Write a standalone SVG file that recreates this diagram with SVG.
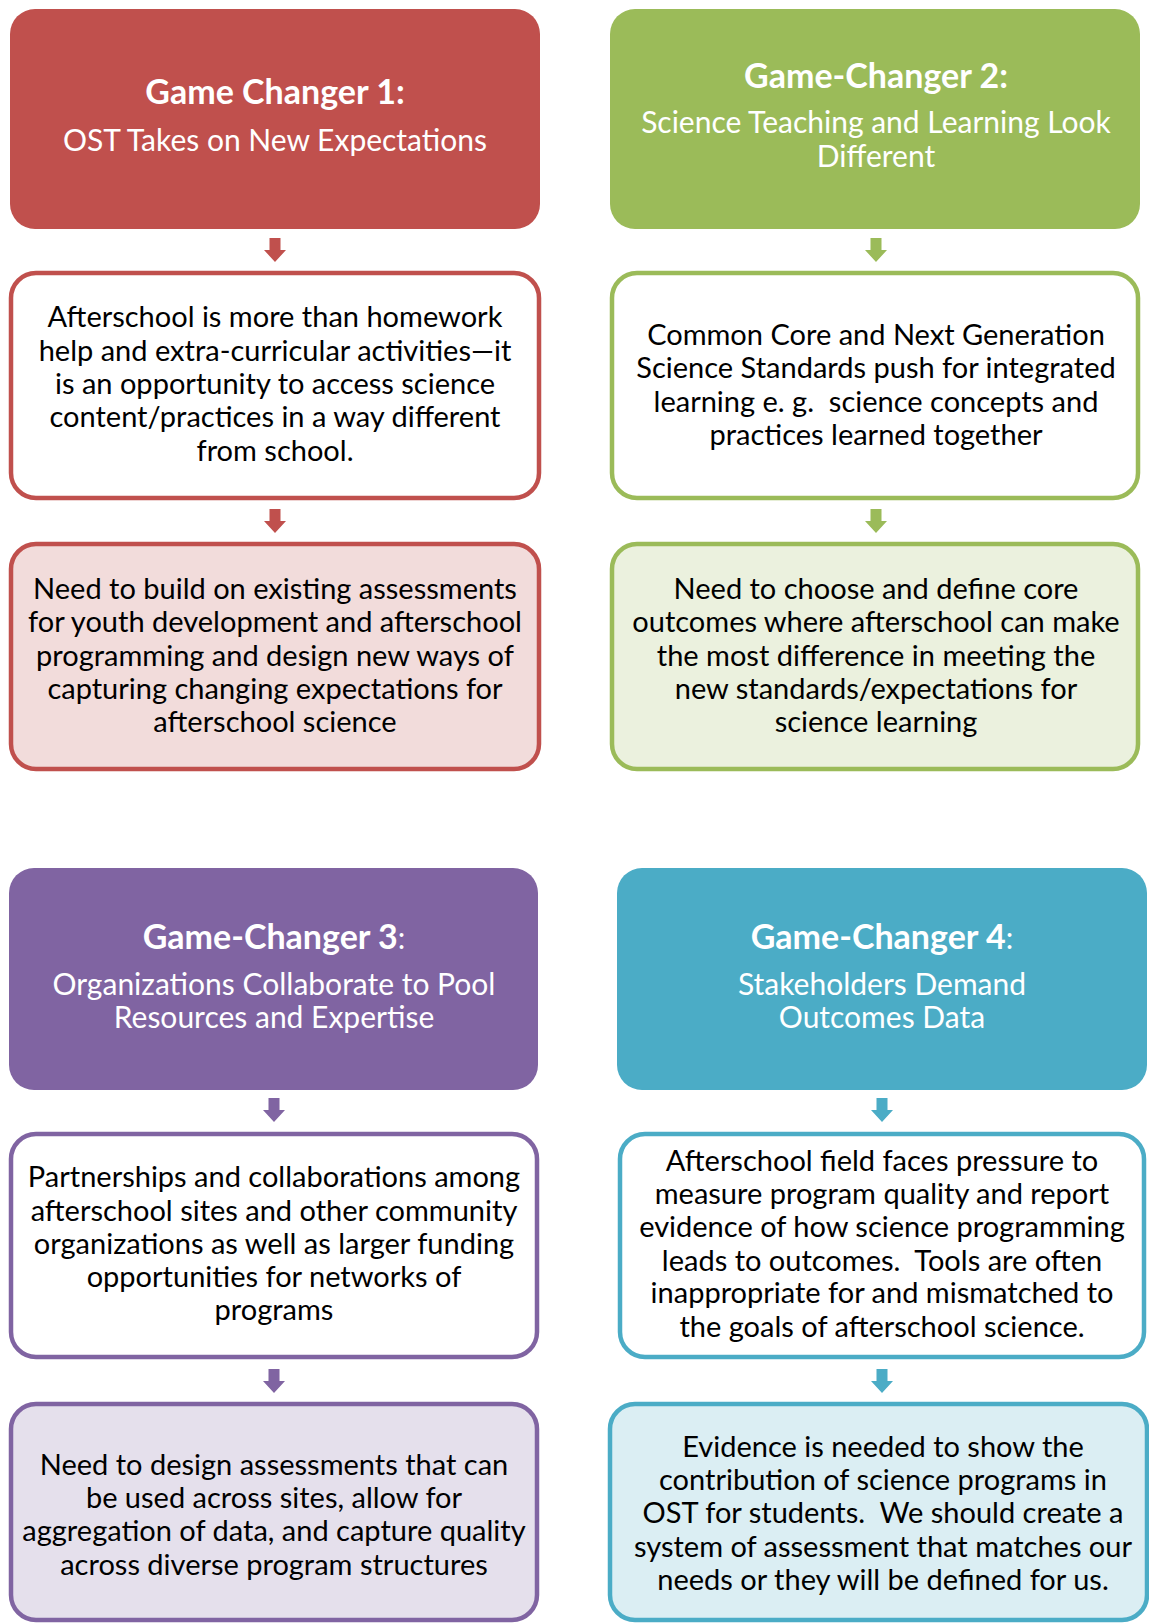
<svg xmlns="http://www.w3.org/2000/svg" xmlns:xlink="http://www.w3.org/1999/xlink" width="1149" height="1623" viewBox="0 0 1149 1623">
<style>
text{font-family:Lato,"Open Sans","Liberation Sans",sans-serif;text-anchor:middle;white-space:pre}
.h{font-size:30px;fill:#fff}
.b{font-weight:bold;font-size:34px}
.t{font-size:29px;fill:#000}
.box{stroke-width:4.5}
</style>
<defs>
<path id="arr" d="M-5.5 0H5.5V12H11L0 24L-11 12H-5.5Z"/>
</defs>
<rect width="1149" height="1623" fill="#fff"/>
<g id="connectors">
<use xlink:href="#arr" x="275" y="238" fill="#C0504D"/>
<use xlink:href="#arr" x="275" y="509" fill="#C0504D"/>
<use xlink:href="#arr" x="876" y="238" fill="#9BBB59"/>
<use xlink:href="#arr" x="876" y="509" fill="#9BBB59"/>
<use xlink:href="#arr" x="274" y="1098" fill="#8064A2"/>
<use xlink:href="#arr" x="274" y="1369" fill="#8064A2"/>
<use xlink:href="#arr" x="882" y="1098" fill="#4BACC6"/>
<use xlink:href="#arr" x="882" y="1369" fill="#4BACC6"/>
</g>
<g id="gc1">
<rect x="10" y="9" width="530" height="220" rx="25" fill="#C0504D"/>
<text class="h b" x="275" y="104">Game Changer 1:</text>
<text class="h" x="275" y="151">OST Takes on New Expectations</text>
</g>
<g id="gc1-a">
<rect class="box" x="11" y="273" width="528" height="225" rx="25" fill="#fff" stroke="#C0504D"/>
<text class="t" x="275" y="327">Afterschool is more than homework</text>
<text class="t" x="275" y="361">help and extra-curricular activities—it</text>
<text class="t" x="275" y="394">is an opportunity to access science</text>
<text class="t" x="275" y="427">content/practices in a way different</text>
<text class="t" x="275" y="461">from school.</text>
</g>
<g id="gc1-b">
<rect class="box" x="11" y="544" width="528" height="225" rx="25" fill="#F2DCDB" stroke="#C0504D"/>
<text class="t" x="275" y="599">Need to build on existing assessments</text>
<text class="t" x="275" y="632">for youth development and afterschool</text>
<text class="t" x="275" y="666">programming and design new ways of</text>
<text class="t" x="275" y="699">capturing changing expectations for</text>
<text class="t" x="275" y="732">afterschool science</text>
</g>
<g id="gc2">
<rect x="610" y="9" width="530" height="220" rx="25" fill="#9BBB59"/>
<text class="h b" x="876" y="88">Game-Changer 2:</text>
<text class="h" x="876" y="133">Science Teaching and Learning Look</text>
<text class="h" x="876" y="167">Different</text>
</g>
<g id="gc2-a">
<rect class="box" x="612" y="273" width="526" height="225" rx="25" fill="#fff" stroke="#9BBB59"/>
<text class="t" x="876" y="345">Common Core and Next Generation</text>
<text class="t" x="876" y="378">Science Standards push for integrated</text>
<text class="t" x="876" y="412">learning e. g.  science concepts and</text>
<text class="t" x="876" y="445">practices learned together</text>
</g>
<g id="gc2-b">
<rect class="box" x="612" y="544" width="526" height="225" rx="25" fill="#EBF1DE" stroke="#9BBB59"/>
<text class="t" x="876" y="599">Need to choose and define core</text>
<text class="t" x="876" y="632">outcomes where afterschool can make</text>
<text class="t" x="876" y="666">the most difference in meeting the</text>
<text class="t" x="876" y="699">new standards/expectations for</text>
<text class="t" x="876" y="732">science learning</text>
</g>
<g id="gc3">
<rect x="9" y="868" width="529" height="222" rx="25" fill="#8064A2"/>
<text class="h" x="274" y="949"><tspan class="b">Game-Changer 3</tspan>:</text>
<text class="h" x="274" y="995">Organizations Collaborate to Pool</text>
<text class="h" x="274" y="1028">Resources and Expertise</text>
</g>
<g id="gc3-a">
<rect class="box" x="11" y="1134" width="526" height="223" rx="25" fill="#fff" stroke="#8064A2"/>
<text class="t" x="274" y="1187">Partnerships and collaborations among</text>
<text class="t" x="274" y="1221">afterschool sites and other community</text>
<text class="t" x="274" y="1254">organizations as well as larger funding</text>
<text class="t" x="274" y="1287">opportunities for networks of</text>
<text class="t" x="274" y="1320">programs</text>
</g>
<g id="gc3-b">
<rect class="box" x="11" y="1404" width="526" height="216" rx="25" fill="#E5E0EC" stroke="#8064A2"/>
<text class="t" x="274" y="1475">Need to design assessments that can</text>
<text class="t" x="274" y="1508">be used across sites, allow for</text>
<text class="t" x="274" y="1541">aggregation of data, and capture quality</text>
<text class="t" x="274" y="1575">across diverse program structures</text>
</g>
<g id="gc4">
<rect x="617" y="868" width="530" height="222" rx="25" fill="#4BACC6"/>
<text class="h" x="882" y="949"><tspan class="b">Game-Changer 4</tspan>:</text>
<text class="h" x="882" y="995">Stakeholders Demand</text>
<text class="h" x="882" y="1028">Outcomes Data</text>
</g>
<g id="gc4-a">
<rect class="box" x="620" y="1134" width="524" height="223" rx="25" fill="#fff" stroke="#4BACC6"/>
<text class="t" x="882" y="1171">Afterschool field faces pressure to</text>
<text class="t" x="882" y="1204">measure program quality and report</text>
<text class="t" x="882" y="1237">evidence of how science programming</text>
<text class="t" x="882" y="1271">leads to outcomes.  Tools are often</text>
<text class="t" x="882" y="1303">inappropriate for and mismatched to</text>
<text class="t" x="882" y="1337">the goals of afterschool science.</text>
</g>
<g id="gc4-b">
<rect class="box" x="610" y="1404" width="537" height="216" rx="25" fill="#DBEEF3" stroke="#4BACC6"/>
<text class="t" x="883" y="1457">Evidence is needed to show the</text>
<text class="t" x="883" y="1490">contribution of science programs in</text>
<text class="t" x="883" y="1523">OST for students.  We should create a</text>
<text class="t" x="883" y="1557">system of assessment that matches our</text>
<text class="t" x="883" y="1590">needs or they will be defined for us.</text>
</g>
</svg>
